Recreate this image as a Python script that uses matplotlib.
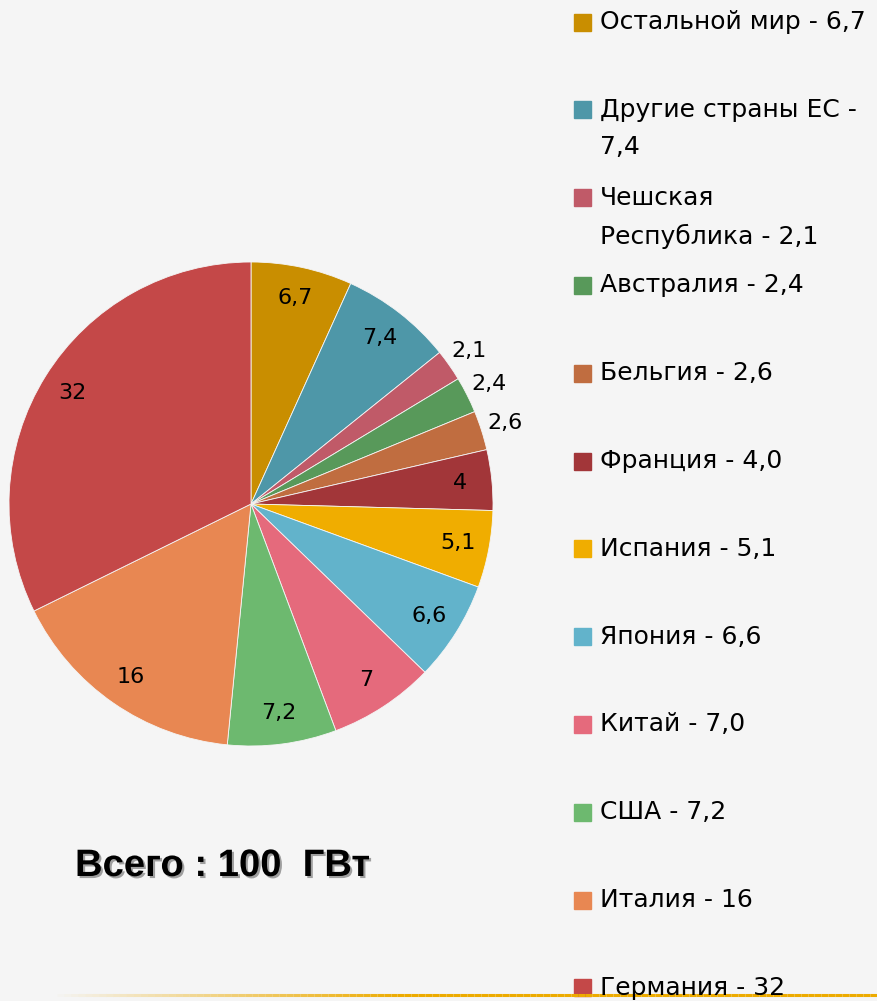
import matplotlib.pyplot as plt
import matplotlib.patheffects as pe
import numpy as np
from matplotlib.collections import LineCollection
from matplotlib.patches import Rectangle

# slices, clockwise from 12 o'clock
countries = ['Остальной мир', 'Другие страны ЕС', 'Чешская Республика', 'Австралия',
             'Бельгия', 'Франция', 'Испания', 'Япония', 'Китай', 'США', 'Италия', 'Германия']
values = [6.7, 7.4, 2.1, 2.4, 2.6, 4.0, 5.1, 6.6, 7.0, 7.2, 16, 32]
pie_labels = ['6,7', '7,4', '2,1', '2,4', '2,6', '4', '5,1', '6,6', '7', '7,2', '16', '32']
legend_labels = ['Остальной мир - 6,7', 'Другие страны ЕС -\n7,4', 'Чешская\nРеспублика - 2,1',
                 'Австралия - 2,4', 'Бельгия - 2,6', 'Франция - 4,0', 'Испания - 5,1',
                 'Япония - 6,6', 'Китай - 7,0', 'США - 7,2', 'Италия - 16', 'Германия - 32']
colors = ['#c98e00', '#4e97a8', '#c05a68', '#58995a', '#c06d40', '#a23639',
          '#f0ad00', '#62b3cb', '#e56a7c', '#6db96f', '#e88752', '#c44848']
total_text = 'Всего : 100  ГВт'

W, H = 877, 1001
bg = '#f5f5f5'
fig = plt.figure(figsize=(W / 100, H / 100), dpi=100, facecolor=bg)

# overlay in pixel coordinates for legend / text / line
over = fig.add_axes([0, 0, 1, 1])
over.set_xlim(0, W)
over.set_ylim(H, 0)
over.axis('off')

# pie: center (251, 504), radius 242 px
cx, cy, r = 251, 504, 242
ax = fig.add_axes([(cx - r) / W, (H - cy - r) / H, 2 * r / W, 2 * r / H])
wedges, _ = ax.pie(values, colors=colors, startangle=90, counterclock=False,
                   radius=1.0, wedgeprops=dict(linewidth=0.6, edgecolor='#f5f5f5'))
ax.set_xlim(-1, 1)
ax.set_ylim(-1, 1)
ax.axis('off')

for w, lab, v in zip(wedges, pie_labels, values):
    ang = np.deg2rad((w.theta1 + w.theta2) / 2)
    d = 1.1 if v < 3 else 0.87
    ax.text(d * np.cos(ang), d * np.sin(ang), lab, ha='center', va='center',
            fontsize=16, color='black', family='DejaVu Sans')

# legend
step = 87.8
for i, (lab, c) in enumerate(zip(legend_labels, colors)):
    y = 22 + i * step
    over.add_patch(Rectangle((574, y - 8.5), 17, 17, color=c))
    over.text(600, y - 12, lab, ha='left', va='top', fontsize=18,
              family='DejaVu Sans', linespacing=1.7)

over.text(75, 866, total_text, ha='left', va='center', fontsize=27.5,
          fontweight='bold', family='Liberation Sans', color='black',
          path_effects=[pe.SimplePatchShadow(offset=(1.5, -1.5), alpha=0.35), pe.Normal()])

# gold bottom line fading in from the left
xs = np.linspace(50, W, 120)
segs = [[(xs[k], 995), (xs[k + 1], 995)] for k in range(len(xs) - 1)]
alphas = np.clip((xs[:-1] - 50) / 350, 0, 1)
cols = [(0.93, 0.67, 0.0, a) for a in alphas]
over.add_collection(LineCollection(segs, colors=cols, linewidths=2.2))

fig.savefig('out.png', dpi=100, facecolor=bg)
